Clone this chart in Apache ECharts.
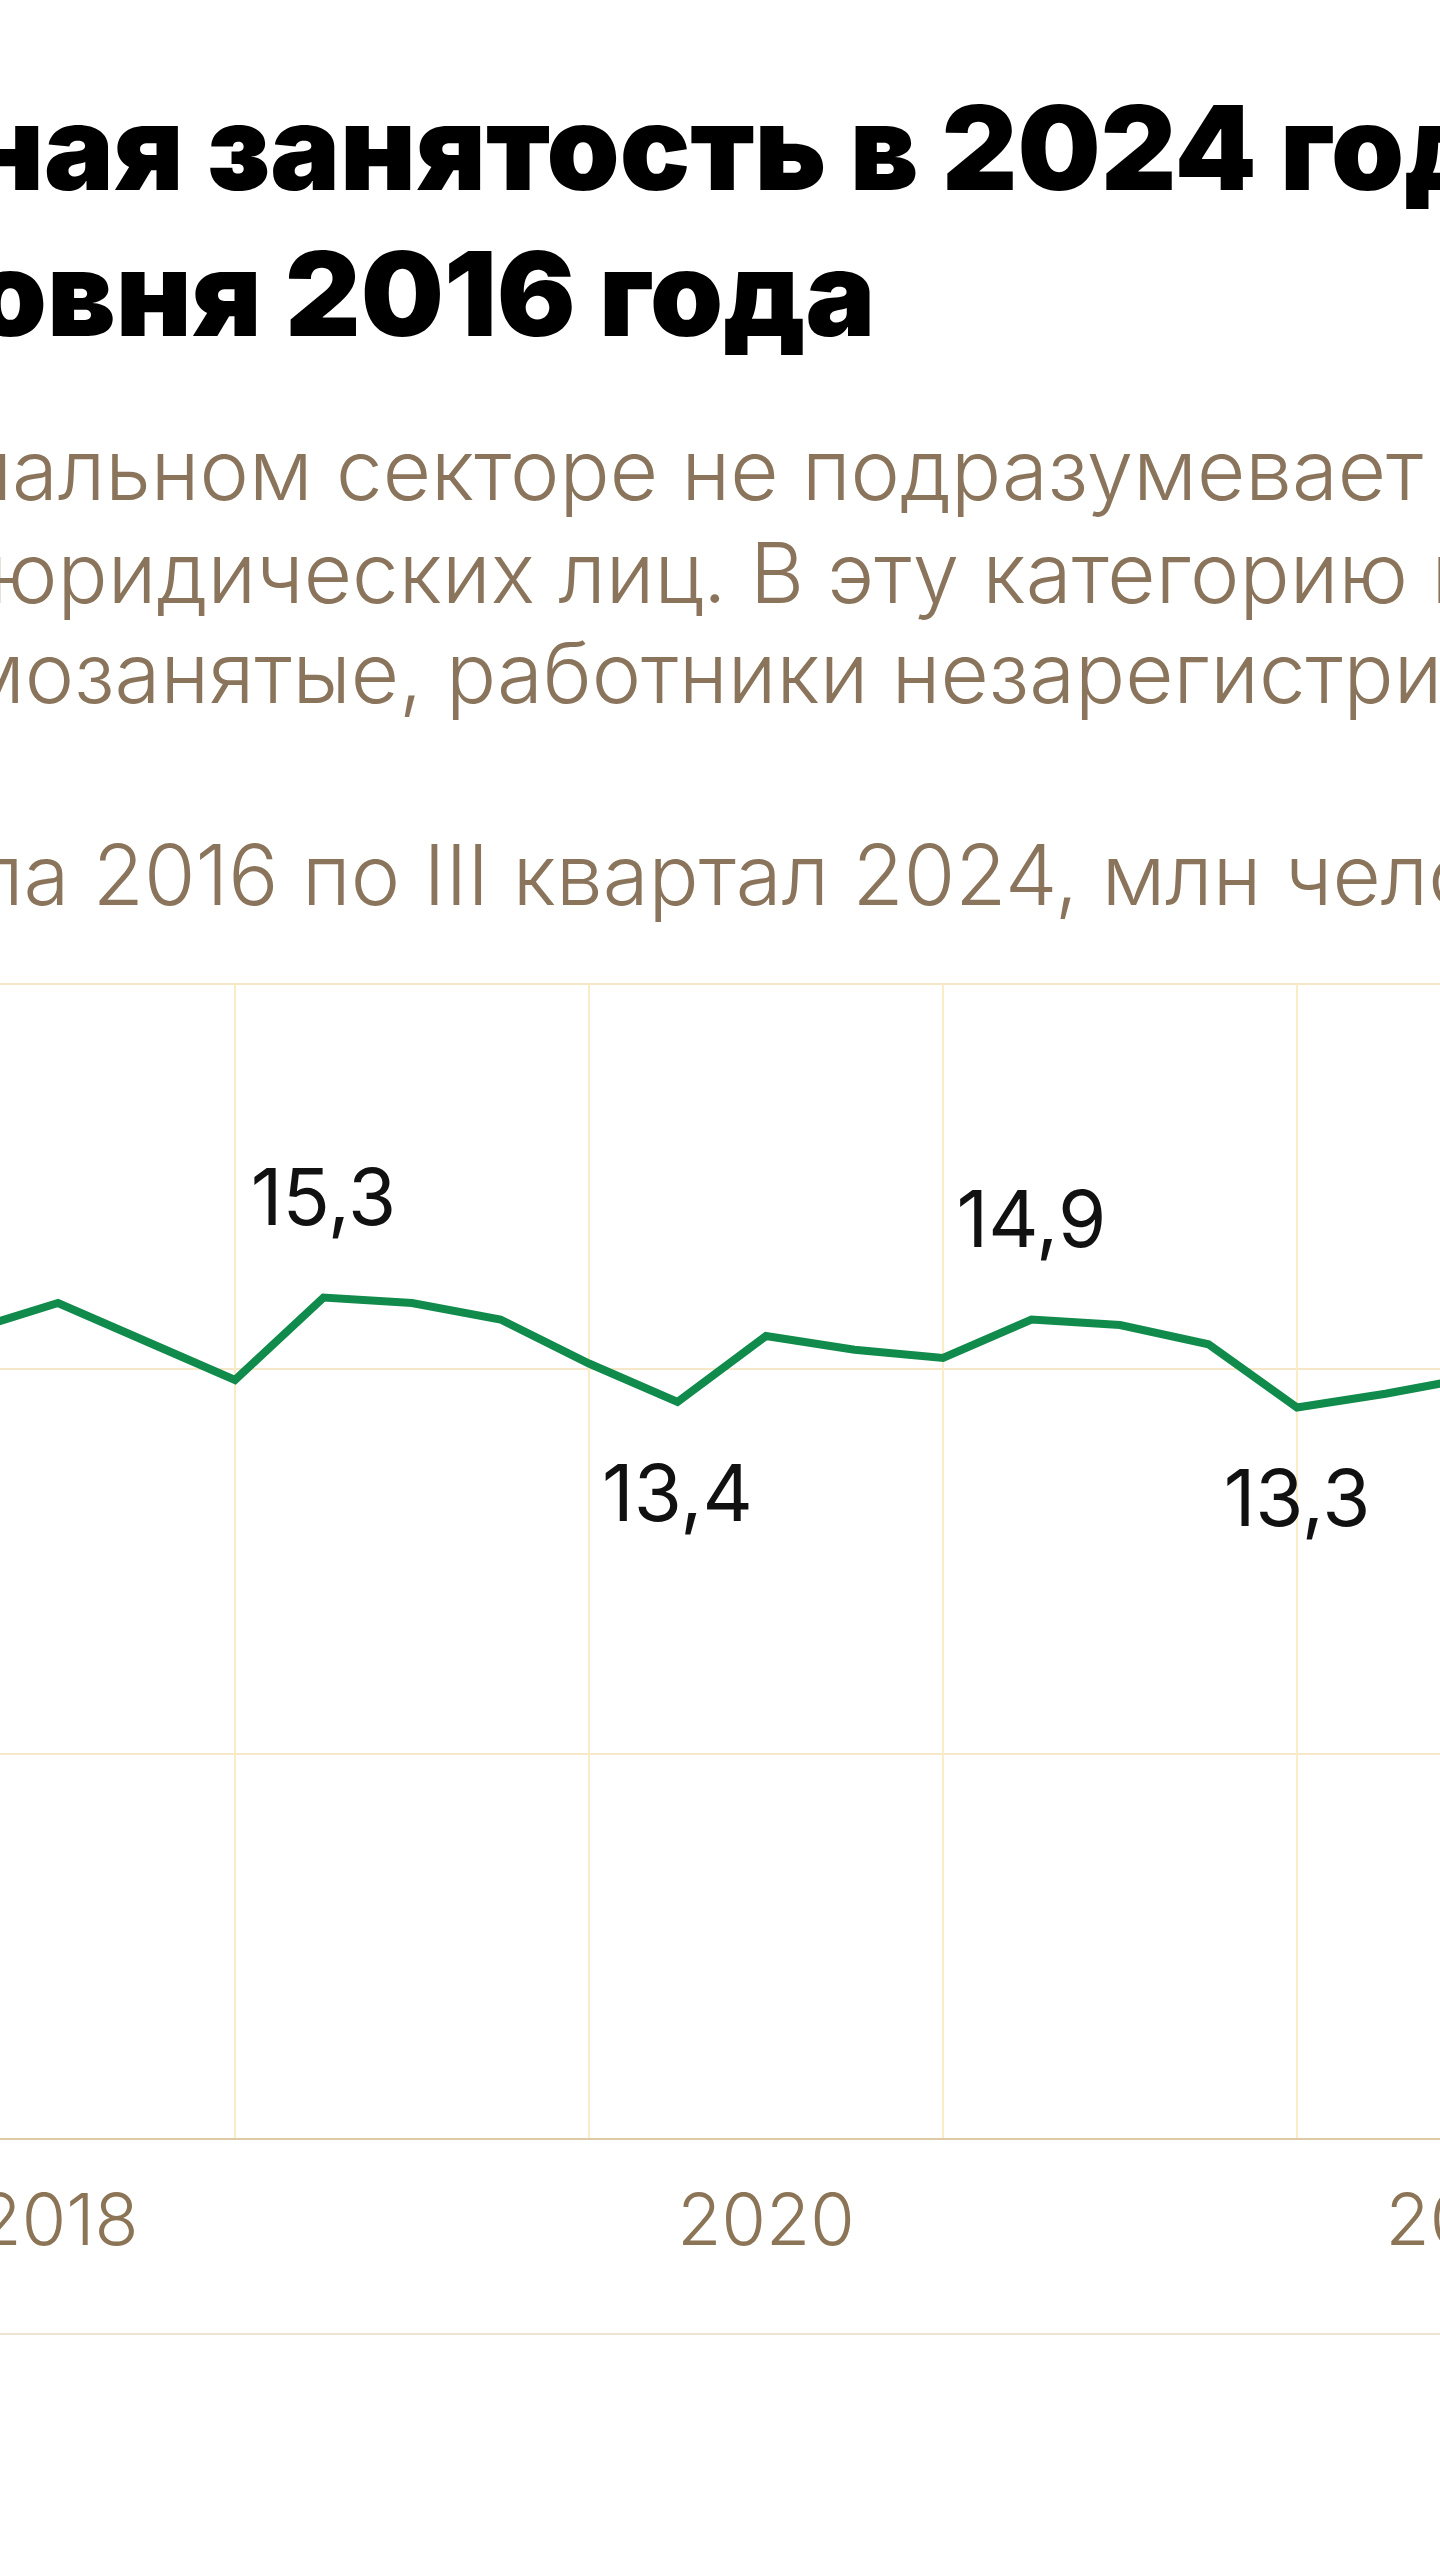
<!DOCTYPE html>
<html><head><meta charset="utf-8">
<script src="https://cdn.jsdelivr.net/npm/echarts@6/dist/echarts.min.js"></script>
<style>html,body{margin:0;padding:0;background:#fff;overflow:hidden}#c{width:1440px;height:2560px}</style>
</head><body><div id="c"></div>
<script>
// ---- data ----
const categories = [
  'I кв. 2016','II кв. 2016','III кв. 2016','IV кв. 2016',
  'I кв. 2017','II кв. 2017','III кв. 2017','IV кв. 2017',
  'I кв. 2018','II кв. 2018','III кв. 2018','IV кв. 2018',
  'I кв. 2019','II кв. 2019','III кв. 2019','IV кв. 2019',
  'I кв. 2020','II кв. 2020','III кв. 2020','IV кв. 2020',
  'I кв. 2021','II кв. 2021','III кв. 2021','IV кв. 2021',
  'I кв. 2022','II кв. 2022','III кв. 2022','IV кв. 2022',
  'I кв. 2023','II кв. 2023','III кв. 2023','IV кв. 2023',
  'I кв. 2024','II кв. 2024','III кв. 2024'
];
const values = [
  13.2, 13.9, 14.1, 13.7,
  13.6, 14.5, 14.7, 14.2,
  13.9, 14.7, 15.2, 14.5,
  13.8, 15.3, 15.2, 14.9,
  14.1, 13.4, 14.6, 14.35,
  14.2, 14.9, 14.8, 14.45,
  13.3, 13.55, 13.85, 13.7,
  13.2, 13.8, 13.9, 13.6,
  12.9, 13.5, 13.8
];
const labelledPoints = ['II кв. 2019', 'II кв. 2020', 'II кв. 2021', 'I кв. 2022'];
const labelsBelow = ['II кв. 2020', 'I кв. 2022'];
const yearTickLabels = ['2016', '2018', '2020', '2022', '2024'];
const yTicks = [0, 7, 14, 21];

const titleLines = ['Неформальная занятость в 2024 году снизилась', 'почти до уровня 2016 года'];
const subtitleLines = [
  'Занятость в неформальном секторе не подразумевает создания',
  'или регистрации юридических лиц. В эту категорию входят ИП,',
  'самозанятые, работники незарегистрированных предприятий'
];
const unitLine = 'Численность занятых в неформальном секторе с I квартала 2016 по III квартал 2024, млн человек';

// ---- layout helpers ----
const mctx = document.createElement('canvas').getContext('2d');
function tw(t, font) { mctx.font = font; return mctx.measureText(t).width; }
const TF = s => '900 ' + s + 'px Inter';
const SF = s => '300 ' + s + 'px Inter';

const tBase = 100;
const tSize = tBase * 735 / (tw('Неформальная занятость в ', TF(tBase)) - tw('Неформальная ', TF(tBase)));
const t1x = 207 - tw('Неформальная ', TF(tSize));
const t2x = 285 - tw('почти до уровня ', TF(tSize));

const sBase = 100;
const sSize = sBase * 466 / (tw('Занятость в неформальном секторе не ', SF(sBase)) - tw('Занятость в неформальном ', SF(sBase)));
const s1x = 336 - tw('Занятость в неформальном ', SF(sSize));
const s2x = 750 - tw('или регистрации юридических лиц. ', SF(sSize));
const s3x = 446 - tw('самозанятые, ', SF(sSize));
const s4x = 302 - tw('Численность занятых в неформальном секторе с I квартала 2016 ', SF(sSize));

function txt(text, x, baseline, size, weight, color) {
  return {
    type: 'text', x: x, y: baseline - 0.36 * size, silent: true,
    style: { text: text, font: weight + ' ' + size + 'px Inter', fill: color, verticalAlign: 'middle', align: 'left' }
  };
}

const subColor = '#8a755c';
const seriesData = values.map((v, i) => {
  const c = categories[i];
  if (labelledPoints.indexOf(c) < 0) return v;
  return {
    value: v,
    label: { show: true, position: labelsBelow.indexOf(c) >= 0 ? 'bottom' : 'top' }
  };
});

const chart = echarts.init(document.getElementById('c'), null, { renderer: 'canvas' });
chart.setOption({
  animation: false,
  backgroundColor: '#ffffff',
  grid: { left: -827, top: 984, width: 3009, height: 1155, containLabel: false, outerBoundsMode: 'none' },
  xAxis: {
    type: 'category',
    data: categories,
    boundaryGap: false,
    axisLine: { show: true, lineStyle: { color: '#dccaa4', width: 2 } },
    axisTick: { show: false },
    axisLabel: {
      interval: (i, v) => v.indexOf('III') === 0 && yearTickLabels.indexOf(v.slice(-4)) >= 0,
      formatter: v => v.slice(-4),
      fontFamily: 'Inter', fontWeight: 300, fontSize: 72, color: '#8c7457', margin: 48
    },
    splitLine: { show: true, interval: (i, v) => v.indexOf('I кв.') === 0, lineStyle: { color: '#fbecc8', width: 2 } }
  },
  yAxis: {
    type: 'value', min: yTicks[0], max: yTicks[yTicks.length - 1], interval: yTicks[1] - yTicks[0],
    axisLine: { show: false }, axisTick: { show: false }, axisLabel: { show: false },
    splitLine: { show: true, lineStyle: { color: '#f6e7c8', width: 2 } }
  },
  series: [{
    type: 'line',
    data: seriesData,
    symbol: 'circle', symbolSize: 1, showSymbol: true,
    itemStyle: { color: '#108b4b' },
    lineStyle: { color: '#108b4b', width: 8, join: 'miter' },
    label: {
      show: false, distance: 56,
      formatter: p => String(p.value).replace('.', ','),
      fontFamily: 'Inter', fontSize: 78, color: '#111111'
    },
    emphasis: { disabled: true },
    z: 5
  }],
  graphic: [
    txt(titleLines[0], t1x, 197, tSize, 900, '#000000'),
    txt(titleLines[1], t2x, 343, tSize, 900, '#000000'),
    txt(subtitleLines[0], s1x, 505, sSize, 300, subColor),
    txt(subtitleLines[1], s2x, 608, sSize, 300, subColor),
    txt(subtitleLines[2], s3x, 708, sSize, 300, subColor),
    txt(unitLine, s4x, 910, sSize, 300, subColor),
    { type: 'line', silent: true, shape: { x1: 0, y1: 2334, x2: 1440, y2: 2334 }, style: { stroke: '#ede3d0', lineWidth: 2 } }
  ]
});
</script></body></html>
